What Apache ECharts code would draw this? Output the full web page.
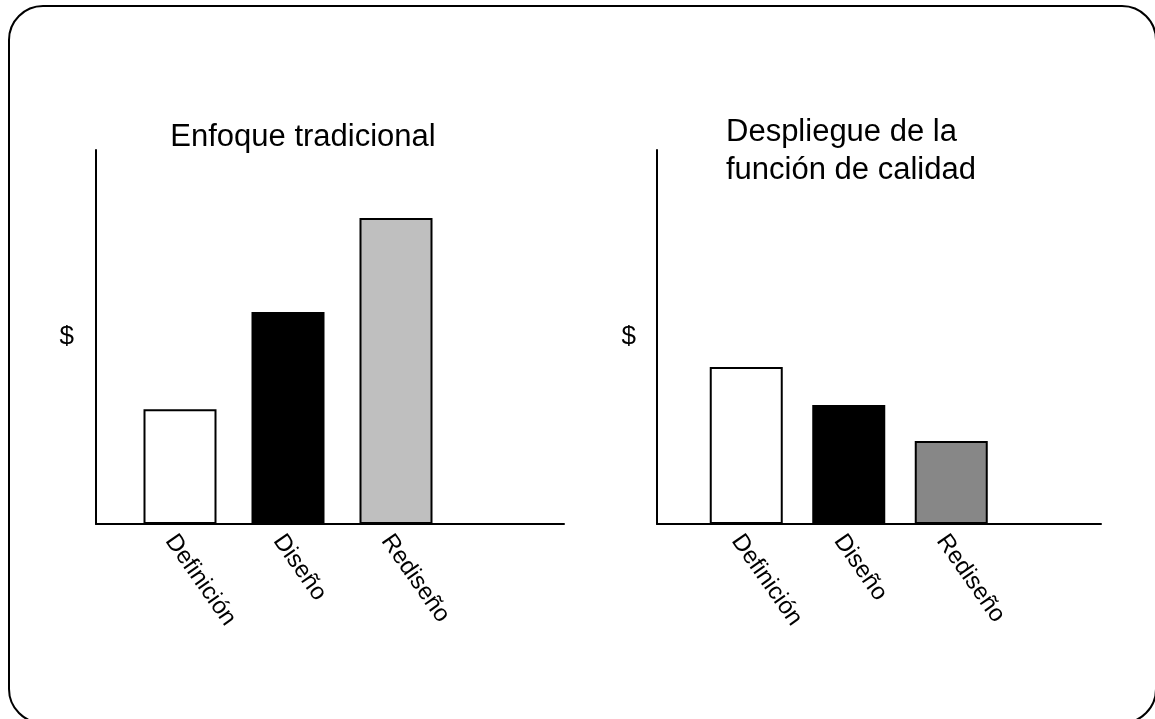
<!DOCTYPE html>
<html>
<head>
<meta charset="utf-8">
<script src="https://cdn.jsdelivr.net/npm/echarts@6/dist/echarts.min.js"></script>
<style>
html,body{margin:0;padding:0;background:#fff;}
#c{width:1155px;height:719px;}
</style>
</head>
<body>
<div id="c"></div>
<script>
// ---- data ----
const categories = ['Definición', 'Diseño', 'Rediseño'];
const traditionalValues = [30.7, 56.7, 81.8];
const qfdValues = [42.0, 31.8, 22.2];
const leftTitle = 'Enfoque tradicional';
const rightTitle = 'Despliegue de la\nfunción de calidad';
const yAxisName = '$';

// ---- styles ----
const leftColors = ['#ffffff', '#000000', '#bfbfbf'];
const rightColors = ['#ffffff', '#000000', '#878787'];
const FONT = 'Liberation Sans, Arial, sans-serif';
const YMAX = 100;

function items(vals, colors) {
  return vals.map((v, i) => ({ value: v, itemStyle: { color: colors[i] } }));
}

const chart = echarts.init(document.getElementById('c'), null, { renderer: 'canvas' });

const frameX = (gi) => ({
  type: 'value', gridIndex: gi, min: 0, max: 1,
  axisLine: { show: true, onZero: false, lineStyle: { color: '#000', width: 2 } },
  axisTick: { show: false }, axisLabel: { show: false }, splitLine: { show: false }
});
const frameY = (gi, gap, padTop) => ({
  type: 'value', gridIndex: gi, min: 0, max: YMAX,
  name: yAxisName, nameLocation: 'middle', nameRotate: 0, nameGap: gap,
  nameTextStyle: { fontSize: 26, color: '#000', fontFamily: FONT, padding: [padTop, 0, 0, 0] },
  axisLine: { show: true, lineStyle: { color: '#000', width: 2 } },
  axisTick: { show: false }, axisLabel: { show: false }, splitLine: { show: false }
});
const barX = (gi) => ({
  type: 'category', gridIndex: gi, data: categories.concat(['']),
  axisLine: { show: false }, axisTick: { show: false }, splitLine: { show: false },
  axisLabel: { rotate: -55, fontSize: 24, color: '#000', fontFamily: FONT, margin: 6,
               verticalAlign: 'top', interval: 0 }
});
const barY = (gi) => ({
  type: 'value', gridIndex: gi, min: 0, max: YMAX, show: false
});

chart.setOption({
  animation: false,
  backgroundColor: '#fff',
  title: [
    { text: leftTitle, left: 298, top: 115, textAlign: 'center',
      textStyle: { fontSize: 31, fontWeight: 'normal', color: '#000', fontFamily: FONT, lineHeight: 34 } },
    { text: rightTitle, left: 721, top: 108,
      textStyle: { fontSize: 31, fontWeight: 'normal', color: '#000', fontFamily: FONT, lineHeight: 38 } }
  ],
  grid: [
    { left: 96, top: 150, width: 468, height: 374 },
    { left: 126, top: 150, width: 432, height: 374 },
    { left: 657, top: 150, width: 444, height: 374 },
    { left: 695, top: 150, width: 410, height: 374 }
  ],
  xAxis: [frameX(0), barX(1), frameX(2), barX(3)],
  yAxis: [frameY(0, 22, 6), barY(1), frameY(2, 21, 12), barY(3)],
  series: [
    { type: 'bar', xAxisIndex: 1, yAxisIndex: 1, barWidth: 73,
      data: items(traditionalValues, leftColors),
      itemStyle: { borderColor: '#000', borderWidth: 2 } },
    { type: 'bar', xAxisIndex: 3, yAxisIndex: 3, barWidth: 73,
      data: items(qfdValues, rightColors),
      itemStyle: { borderColor: '#000', borderWidth: 2 } }
  ],
  graphic: [
    { type: 'rect', shape: { x: 9, y: 6, width: 1147, height: 717, r: 34 },
      style: { fill: 'none', stroke: '#000', lineWidth: 2 }, z: 100 }
  ]
});
</script>
</body>
</html>
